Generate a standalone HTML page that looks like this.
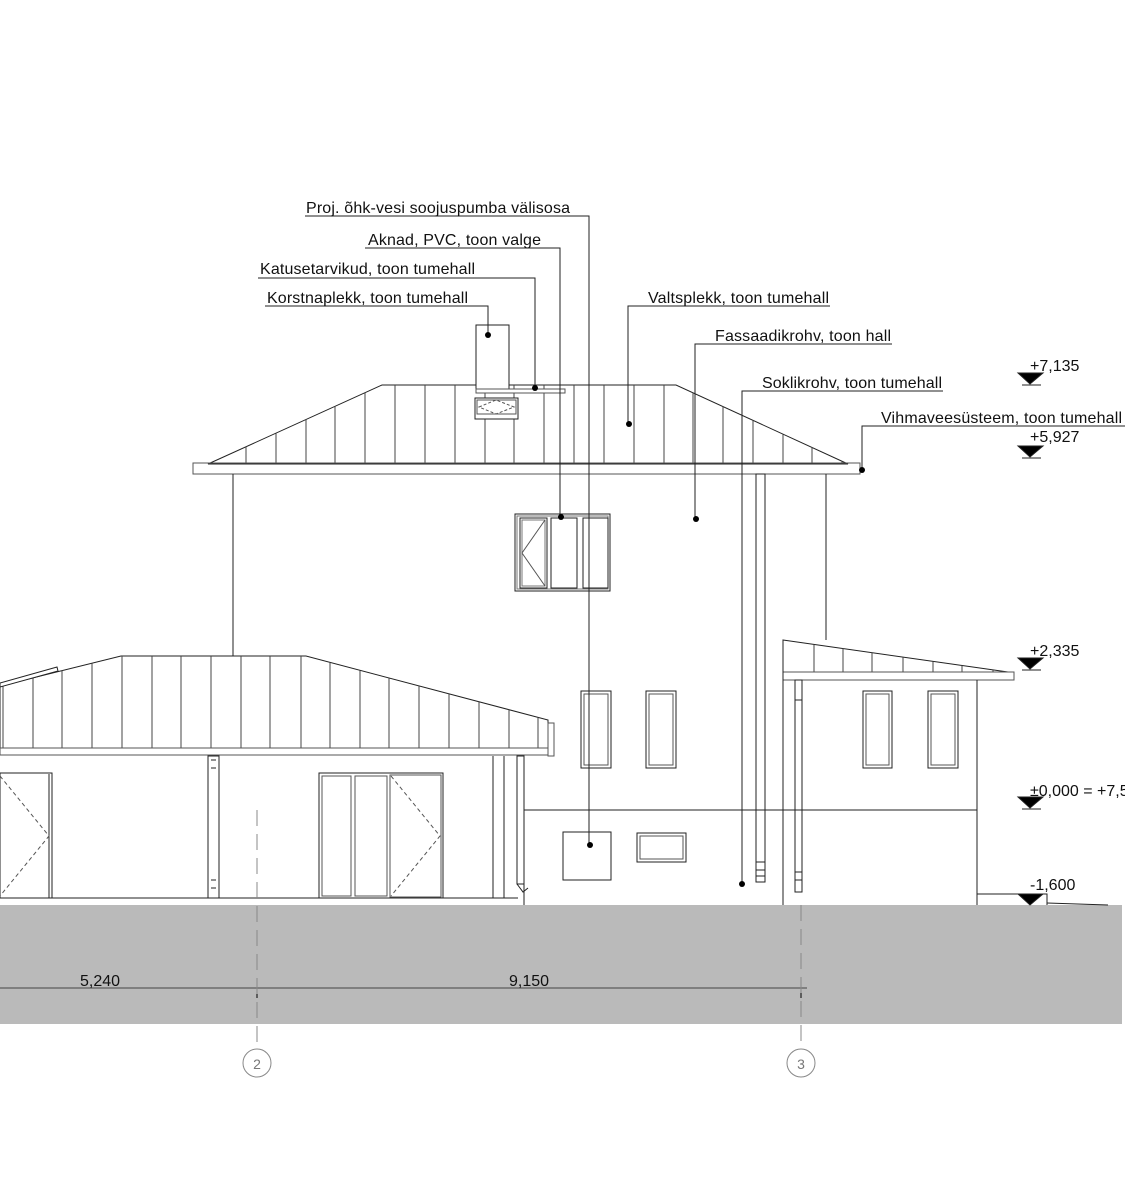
<!DOCTYPE html>
<html><head><meta charset="utf-8"><style>
html,body{margin:0;padding:0;background:#fff;}
svg{display:block;}
text{font-family:"Liberation Sans",sans-serif;font-size:16px;fill:#111;}
</style></head><body>
<svg width="1125" height="1188" viewBox="0 0 1125 1188" xmlns="http://www.w3.org/2000/svg">
<defs>
<clipPath id="r1"><polygon points="208,464 382,385 676,385 848,464"/></clipPath>
<clipPath id="r2"><polygon points="0,686 121,656 306,656 548,720 548,748 0,748"/></clipPath>
<clipPath id="r3"><polygon points="783,640 1008,672 1008,672 783,672"/></clipPath>
</defs>
<rect x="0" y="905" width="1122" height="119" fill="#bababa"/>
<g stroke="#222" stroke-width="1" fill="none">
<polygon points="208,464 382,385 676,385 848,464"/>
<g clip-path="url(#r1)" stroke="#444">
<line x1="246" y1="380" x2="246" y2="464"/><line x1="276" y1="380" x2="276" y2="464"/><line x1="306" y1="380" x2="306" y2="464"/><line x1="335" y1="380" x2="335" y2="464"/><line x1="365" y1="380" x2="365" y2="464"/><line x1="395" y1="380" x2="395" y2="464"/><line x1="425" y1="380" x2="425" y2="464"/><line x1="455" y1="380" x2="455" y2="464"/><line x1="485" y1="380" x2="485" y2="464"/><line x1="514" y1="380" x2="514" y2="464"/><line x1="544" y1="380" x2="544" y2="464"/><line x1="574" y1="380" x2="574" y2="464"/><line x1="604" y1="380" x2="604" y2="464"/><line x1="634" y1="380" x2="634" y2="464"/><line x1="664" y1="380" x2="664" y2="464"/><line x1="693" y1="380" x2="693" y2="464"/><line x1="723" y1="380" x2="723" y2="464"/><line x1="753" y1="380" x2="753" y2="464"/><line x1="783" y1="380" x2="783" y2="464"/><line x1="812" y1="380" x2="812" y2="464"/><line x1="842" y1="380" x2="842" y2="464"/>
</g>
<rect x="193" y="463" width="667" height="11" stroke="#555"/>
<line x1="208" y1="464" x2="848" y2="464"/>
<rect x="476" y="325" width="33" height="64" fill="#fff"/>
<rect x="476" y="389" width="89" height="4" fill="#fff" stroke="#555"/>
<rect x="475" y="398" width="43" height="21" fill="#fff"/>
<rect x="477" y="400" width="39" height="14" stroke="#555"/>
<polygon points="479,407 496,400 514,407 496,414" stroke-dasharray="3,2" stroke="#555"/>
<line x1="233" y1="474" x2="233" y2="656"/>
<line x1="826" y1="474" x2="826" y2="640"/>
<line x1="524" y1="760" x2="524" y2="905"/>
<line x1="524" y1="810" x2="977" y2="810"/>
<rect x="515" y="514" width="95" height="77"/>
<rect x="517" y="516" width="91" height="73" stroke="#777"/>
<rect x="520" y="518" width="27" height="70"/><rect x="522" y="520" width="23" height="66" stroke="#777"/>
<polyline points="545,520 522,553 545,586" stroke="#555"/>
<rect x="551" y="518" width="26" height="70"/>
<rect x="583" y="518" width="25" height="70"/>
<rect x="581" y="691" width="30" height="77"/><rect x="584" y="694" width="24" height="71" stroke="#555"/>
<rect x="646" y="691" width="30" height="77"/><rect x="649" y="694" width="24" height="71" stroke="#555"/>
<rect x="863" y="691" width="29" height="77"/><rect x="866" y="694" width="23" height="71" stroke="#555"/>
<rect x="928" y="691" width="30" height="77"/><rect x="931" y="694" width="24" height="71" stroke="#555"/>
<rect x="563" y="832" width="48" height="48"/>
<rect x="637" y="833" width="49" height="29"/><rect x="640" y="836" width="43" height="23" stroke="#555"/>
<rect x="756" y="474" width="9" height="408"/>
<line x1="756" y1="862" x2="765" y2="862"/><line x1="756" y1="870" x2="765" y2="870"/><line x1="756" y1="876" x2="765" y2="876"/>
<polygon points="783,640 1008,672 783,672"/>
<g clip-path="url(#r3)" stroke="#444">
<line x1="814" y1="630" x2="814" y2="672"/><line x1="843" y1="630" x2="843" y2="672"/><line x1="872" y1="630" x2="872" y2="672"/><line x1="903" y1="630" x2="903" y2="672"/><line x1="933" y1="630" x2="933" y2="672"/><line x1="962" y1="630" x2="962" y2="672"/><line x1="993" y1="630" x2="993" y2="672"/>
</g>
<rect x="783" y="672" width="231" height="8" stroke="#555"/>
<line x1="783" y1="640" x2="783" y2="905"/>
<line x1="977" y1="680" x2="977" y2="905"/>
<rect x="795" y="680" width="7" height="212"/>
<line x1="795" y1="700" x2="802" y2="700"/><line x1="795" y1="872" x2="802" y2="872"/><line x1="795" y1="880" x2="802" y2="880"/>
<polyline points="977,894 1047,894 1047,905"/>
<line x1="1047" y1="903" x2="1108" y2="905"/>
<polygon points="0,686 121,656 306,656 548,720 548,748 0,748"/>
<g clip-path="url(#r2)" stroke="#444">
<line x1="3" y1="640" x2="3" y2="748"/><line x1="33" y1="640" x2="33" y2="748"/><line x1="62" y1="640" x2="62" y2="748"/><line x1="92" y1="640" x2="92" y2="748"/><line x1="122" y1="640" x2="122" y2="748"/><line x1="152" y1="640" x2="152" y2="748"/><line x1="181" y1="640" x2="181" y2="748"/><line x1="211" y1="640" x2="211" y2="748"/><line x1="241" y1="640" x2="241" y2="748"/><line x1="270" y1="640" x2="270" y2="748"/><line x1="301" y1="640" x2="301" y2="748"/><line x1="330" y1="640" x2="330" y2="748"/><line x1="360" y1="640" x2="360" y2="748"/><line x1="389" y1="640" x2="389" y2="748"/><line x1="419" y1="640" x2="419" y2="748"/><line x1="449" y1="640" x2="449" y2="748"/><line x1="479" y1="640" x2="479" y2="748"/><line x1="509" y1="640" x2="509" y2="748"/><line x1="538" y1="640" x2="538" y2="748"/>
</g>
<polygon points="0,683 57,667 58,671 0,687" fill="#fff"/>
<rect x="0" y="748" width="548" height="7" stroke="#555"/>
<rect x="548" y="723" width="6" height="33" stroke="#555"/>
<line x1="0" y1="898" x2="518" y2="898"/>
<rect x="208" y="756" width="11" height="142"/>
<line x1="211" y1="760" x2="216" y2="760"/><line x1="211" y1="768" x2="216" y2="768"/><line x1="211" y1="880" x2="216" y2="880"/><line x1="211" y1="888" x2="216" y2="888"/>
<rect x="0" y="773" width="52" height="125"/><line x1="49" y1="774" x2="49" y2="898"/>
<polyline points="0,776 49,836 0,896" stroke-dasharray="4,3" stroke="#555"/>
<rect x="319" y="773" width="124" height="125"/>
<rect x="322" y="776" width="29" height="120" stroke="#555"/><rect x="355" y="776" width="32" height="120" stroke="#555"/>
<rect x="390" y="775" width="51" height="122" stroke="#555"/>
<polyline points="391,776 440,836 391,896" stroke-dasharray="4,3" stroke="#555"/>
<line x1="493" y1="756" x2="493" y2="898"/><line x1="504" y1="756" x2="504" y2="898"/>
<rect x="517" y="756" width="7" height="128"/>
<polyline points="517,884 523,892 528,888"/>
</g>
<g stroke="#222" stroke-width="1" fill="none">
<polyline points="305,216 589,216 589,845"/>
<polyline points="365,248 560,248 560,517"/>
<polyline points="258,278 535,278 535,388"/>
<polyline points="265,306 488,306 488,335"/>
<polyline points="830,306 628,306 628,424"/>
<polyline points="892,344 695,344 695,518"/>
<polyline points="943,391 742,391 742,884"/>
<polyline points="1125,426 862,426 862,470"/>
</g>
<g fill="#000">
<circle cx="590" cy="845" r="3"/><circle cx="561" cy="517" r="3"/><circle cx="535" cy="388" r="3"/><circle cx="488" cy="335" r="3"/><circle cx="629" cy="424" r="3"/><circle cx="696" cy="519" r="3"/><circle cx="742" cy="884" r="3"/><circle cx="862" cy="470" r="3"/>
</g>
<text x="306" y="213" textLength="264">Proj. õhk-vesi soojuspumba välisosa</text>
<text x="368" y="245" textLength="173">Aknad, PVC, toon valge</text>
<text x="260" y="274" textLength="215">Katusetarvikud, toon tumehall</text>
<text x="267" y="303" textLength="201">Korstnaplekk, toon tumehall</text>
<text x="648" y="303" textLength="181">Valtsplekk, toon tumehall</text>
<text x="715" y="341" textLength="176">Fassaadikrohv, toon hall</text>
<text x="762" y="388" textLength="180">Soklikrohv, toon tumehall</text>
<text x="881" y="423" textLength="241">Vihmaveesüsteem, toon tumehall</text>
<g fill="#000" stroke="#222">
<polygon points="1018,373 1043,373 1030,384"/><line x1="1022" y1="385" x2="1041" y2="385"/>
<polygon points="1018,446 1043,446 1030,457"/><line x1="1022" y1="458" x2="1041" y2="458"/>
<polygon points="1018,658 1043,658 1030,669"/><line x1="1022" y1="670" x2="1041" y2="670"/>
<polygon points="1018,797 1043,797 1030,808"/><line x1="1022" y1="809" x2="1041" y2="809"/>
<polygon points="1018,894 1043,894 1030,905"/>
</g>
<text x="1030" y="371">+7,135</text>
<text x="1030" y="442">+5,927</text>
<text x="1030" y="656">+2,335</text>
<text x="1030" y="796">±0,000 = +7,5</text>
<text x="1030" y="890">-1,600</text>
<g stroke="#444" stroke-width="1" fill="none">
<line x1="0" y1="988" x2="807" y2="988"/>
<line x1="257" y1="980" x2="257" y2="998" stroke="#000"/><line x1="801" y1="980" x2="801" y2="998" stroke="#000"/>
<line x1="257" y1="810" x2="257" y2="1048" stroke="#888" stroke-dasharray="16,8"/>
<line x1="801" y1="905" x2="801" y2="1048" stroke="#888" stroke-dasharray="16,8"/>
<circle cx="257" cy="1063" r="14" stroke="#888"/>
<circle cx="801" cy="1063" r="14" stroke="#888"/>
</g>
<text x="80" y="986">5,240</text>
<text x="509" y="986">9,150</text>
<text x="257" y="1069" text-anchor="middle" style="fill:#777;font-size:14px">2</text>
<text x="801" y="1069" text-anchor="middle" style="fill:#777;font-size:14px">3</text>
</svg>
</body></html>
